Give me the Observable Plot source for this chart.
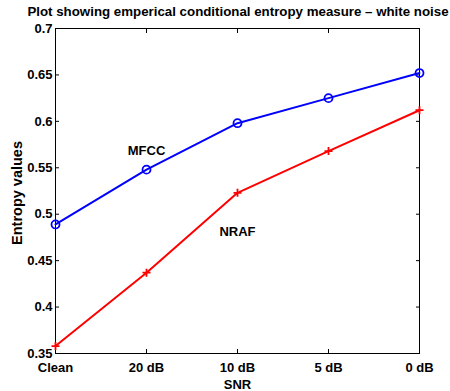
<!DOCTYPE html>
<html>
<head>
<meta charset="utf-8">
<script src="https://cdn.jsdelivr.net/npm/d3@7"></script>
<script src="https://cdn.jsdelivr.net/npm/@observablehq/plot@0.6"></script>
<style>
  body { margin: 0; background: #fff; font-family: "Liberation Sans", Arial, sans-serif; }
  #title { height: 20px; line-height: 23px; text-align: center; font-weight: bold; font-size: 13.3px; width: 426px; margin-left: 25px; white-space: nowrap; }
  svg { overflow: visible; }
</style>
</head>
<body>
<div id="title">Plot showing emperical conditional entropy measure – white noise</div>
<div id="chart"></div>
<script>
const categories = ["Clean", "20 dB", "10 dB", "5 dB", "0 dB"];
const mfcc = [0.489, 0.548, 0.598, 0.625, 0.652];
const nraf = [0.358, 0.437, 0.523, 0.568, 0.612];
const yTicks = [0.35, 0.4, 0.45, 0.5, 0.55, 0.6, 0.65, 0.7];
const yTickLabels = ["0.35", "0.4", "0.45", "0.5", "0.55", "0.6", "0.65", "0.7"];
const seriesLabels = [
  {text: "MFCC", x: "20 dB", y: 0.568},
  {text: "NRAF", x: "10 dB", y: 0.481}
];

const mfccData = categories.map((c, i) => ({x: c, y: mfcc[i]}));
const nrafData = categories.map((c, i) => ({x: c, y: nraf[i]}));

const plusSymbol = {
  draw(context, size) {
    const r = Math.sqrt(size / Math.PI);
    context.moveTo(-r, 0); context.lineTo(r, 0);
    context.moveTo(0, -r); context.lineTo(0, r);
  }
};

const fmt = d => yTickLabels[yTicks.indexOf(d)];

const chart = Plot.plot({
  width: 450,
  height: 371,
  marginLeft: 55,
  marginRight: 31,
  marginTop: 8,
  marginBottom: 38,
  style: {fontFamily: "'Liberation Sans', Arial, sans-serif", fontSize: "13px", fontWeight: "bold", color: "#000", background: "#fff", overflow: "visible"},
  x: {type: "point", domain: categories, padding: 0, label: null},
  y: {domain: [0.35, 0.7], label: null},
  marks: [
    Plot.frame({stroke: "#000", strokeWidth: 1}),
    // inward ticks on all four sides
    Plot.axisX(categories, {anchor: "bottom", tickSize: -4, label: null, text: null}),
    Plot.axisX(categories, {anchor: "top", tickSize: -4, label: null, text: null}),
    Plot.axisY(yTicks, {anchor: "left", tickSize: -4, label: null, text: null}),
    Plot.axisY(yTicks, {anchor: "right", tickSize: -4, label: null, text: null}),
    // tick labels
    Plot.axisX(categories, {anchor: "bottom", tickSize: 0, tickPadding: 9, label: null, fontSize: 13, fontWeight: "bold"}),
    Plot.axisY(yTicks, {anchor: "left", tickSize: 0, tickPadding: 3, tickFormat: fmt, label: null, fontSize: 13, fontWeight: "bold"}),
    // axis titles
    Plot.text(["SNR"], {frameAnchor: "bottom", lineAnchor: "middle", dy: 31, fontSize: 13, fontWeight: "bold"}),
    Plot.text(["Entropy values"], {frameAnchor: "left", textAnchor: "middle", lineAnchor: "middle", rotate: -90, dx: -38, dy: 2, fontSize: 14.5, fontWeight: "bold"}),
    // series
    Plot.line(mfccData, {x: "x", y: "y", stroke: "#0000ff", strokeWidth: 2}),
    Plot.dot(mfccData, {x: "x", y: "y", r: 4, stroke: "#0000ff", strokeWidth: 1.8, fill: "none"}),
    Plot.line(nrafData, {x: "x", y: "y", stroke: "#ff0000", strokeWidth: 2}),
    Plot.dot(nrafData, {x: "x", y: "y", r: 4, symbol: plusSymbol, stroke: "#ff0000", strokeWidth: 1.8}),
    Plot.text(seriesLabels, {x: "x", y: "y", text: "text", fontSize: 13, fontWeight: "bold", fill: "#000"})
  ]
});
document.getElementById("chart").appendChild(chart);
</script>
</body>
</html>
